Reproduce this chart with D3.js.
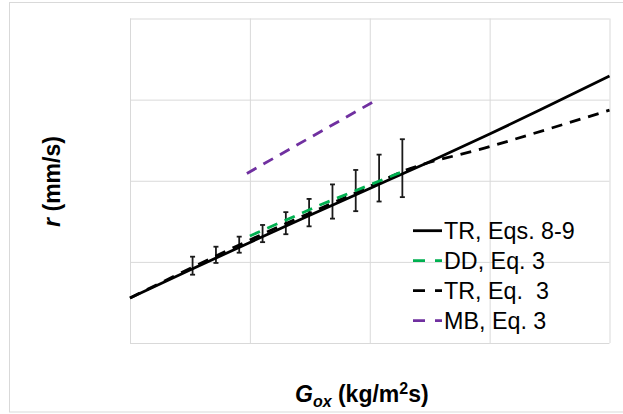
<!DOCTYPE html>
<html>
<head>
<meta charset="utf-8">
<script src="https://cdn.jsdelivr.net/npm/d3@7/dist/d3.min.js"></script>
<style>
  html, body { margin: 0; padding: 0; background: #ffffff; }
  svg { display: block; }
</style>
</head>
<body>
<script>
// Grid divisions (the axes carry no tick labels)
const gridTicks = [0, 1, 2, 3, 4];

// TR model, Eqs. 8-9 (solid black)
const trModelG = [0, 0.5, 1, 1.5, 2, 2.5, 3, 3.5, 4];
const trModelR = [0.555, 0.90, 1.24, 1.575, 1.905, 2.235, 2.575, 2.93, 3.29];

// TR, Eq. 3 (dashed black)
const trEq3G = [0, 1, 2, 2.25, 3, 4];
const trEq3R = [0.555, 1.27, 1.93, 2.10, 2.42, 2.87];

// DD, Eq. 3 (dashed green)
const ddG = [1.0, 1.6, 2.27];
const ddR = [1.32, 1.71, 2.11];

// MB, Eq. 3 (dashed purple)
const mbG = [0.975, 1.5, 2.067];
const mbR = [2.09, 2.53, 3.005];

// Measured regression rates with error bars
const expG = [0.522, 0.717, 0.911, 1.106, 1.30, 1.494, 1.689, 1.883, 2.078, 2.272];
const expR = [0.953, 1.087, 1.212, 1.349, 1.477, 1.607, 1.744, 1.879, 2.033, 2.155];
const expErr = [0.111, 0.100, 0.099, 0.106, 0.136, 0.169, 0.211, 0.254, 0.289, 0.357];

// Legend entries
const legendLabels = ["TR, Eqs. 8-9", "DD, Eq. 3", "TR, Eq.  3", "MB, Eq. 3"];
const legendColors = ["#000000", "#00b050", "#000000", "#7030a0"];
const legendDashed = [false, true, true, true];

const W = 623, H = 414;
const FONT = "'Liberation Sans', Arial, sans-serif";
const svg = d3.select("body").append("svg")
  .attr("width", W).attr("height", H);

// outer chart frame
svg.append("rect")
  .attr("x", 9.5).attr("y", 2.5)
  .attr("width", 620).attr("height", 409.5)
  .attr("fill", "none").attr("stroke", "#d9d9d9").attr("stroke-width", 1);

const x = d3.scaleLinear().domain([0, 4]).range([130, 609.5]);
const y = d3.scaleLinear().domain([0, 4]).range([343, 18.5]);

// gridlines drawn via axes with full-length ticks
const gx = svg.append("g")
  .attr("transform", `translate(0,${y(0)})`)
  .call(d3.axisBottom(x).tickValues(gridTicks).tickSize(-(y(0) - y(4))).tickFormat(""));
const gy = svg.append("g")
  .attr("transform", `translate(${x(0)},0)`)
  .call(d3.axisLeft(y).tickValues(gridTicks).tickSize(-(x(4) - x(0))).tickFormat(""));
[gx, gy].forEach(g => {
  g.select(".domain").remove();
  g.selectAll(".tick line").attr("stroke", "#d9d9d9").attr("stroke-width", 1);
});

const line = d3.line().x(d => x(d[0])).y(d => y(d[1]));
const smooth = d3.line().curve(d3.curveMonotoneX).x(d => x(d[0])).y(d => y(d[1]));
const zip = (a, b) => a.map((v, i) => [v, b[i]]);

// error bars
const eb = svg.append("g").attr("stroke", "#1a1a1a").attr("stroke-width", 1.8);
expG.forEach((g, i) => {
  const lo = expR[i] - expErr[i], hi = expR[i] + expErr[i];
  eb.append("line").attr("x1", x(g)).attr("x2", x(g)).attr("y1", y(lo)).attr("y2", y(hi));
  eb.append("line").attr("x1", x(g) - 2.5).attr("x2", x(g) + 2.5).attr("y1", y(lo)).attr("y2", y(lo));
  eb.append("line").attr("x1", x(g) - 2.5).attr("x2", x(g) + 2.5).attr("y1", y(hi)).attr("y2", y(hi));
});

// model curves
svg.append("path").datum(zip(trModelG, trModelR))
  .attr("d", smooth).attr("fill", "none")
  .attr("stroke", "#000").attr("stroke-width", 2.8);

svg.append("path").datum(zip(trEq3G, trEq3R))
  .attr("d", smooth).attr("fill", "none")
  .attr("stroke", "#000").attr("stroke-width", 2.8)
  .attr("stroke-dasharray", "11,8");

svg.append("path").datum(zip(ddG, ddR))
  .attr("d", line).attr("fill", "none")
  .attr("stroke", "#00b050").attr("stroke-width", 2.8)
  .attr("stroke-dasharray", "11,8");

svg.append("path").datum(zip(mbG, mbR))
  .attr("d", line).attr("fill", "none")
  .attr("stroke", "#7030a0").attr("stroke-width", 2.8)
  .attr("stroke-dasharray", "11,8");

// legend
const lg = svg.append("g");
legendLabels.forEach((lab, i) => {
  const cy = 230.7 + i * 30;
  lg.append("line")
    .attr("x1", 413).attr("x2", 442).attr("y1", cy).attr("y2", cy)
    .attr("stroke", legendColors[i]).attr("stroke-width", 2.8)
    .attr("stroke-dasharray", legendDashed[i] ? "12,10" : null);
  lg.append("text")
    .attr("x", 444).attr("y", cy + 8.6)
    .attr("font-family", FONT)
    .attr("font-size", 23.3)
    .attr("fill", "#000")
    .style("white-space", "pre")
    .text(lab);
});

// y axis title
const yt = svg.append("text")
  .attr("transform", "translate(60,181.5) rotate(-90)")
  .attr("text-anchor", "middle")
  .attr("font-family", FONT)
  .attr("font-weight", "bold").attr("font-size", 23);
yt.append("tspan").attr("font-style", "italic").text("r");
yt.append("tspan").text(" (mm/s)");

// x axis title
const xt = svg.append("text")
  .attr("x", 295).attr("y", 401.7)
  .attr("font-family", FONT)
  .attr("font-weight", "bold").attr("font-size", 23);
xt.append("tspan").attr("font-style", "italic").text("G");
xt.append("tspan").attr("font-style", "italic").attr("font-size", 16).attr("dy", 5).text("ox");
xt.append("tspan").attr("dy", -5).text(" (kg/m");
xt.append("tspan").attr("font-size", 16).attr("dy", -8).text("2");
xt.append("tspan").attr("dy", 8).text("s)");
</script>
</body>
</html>
